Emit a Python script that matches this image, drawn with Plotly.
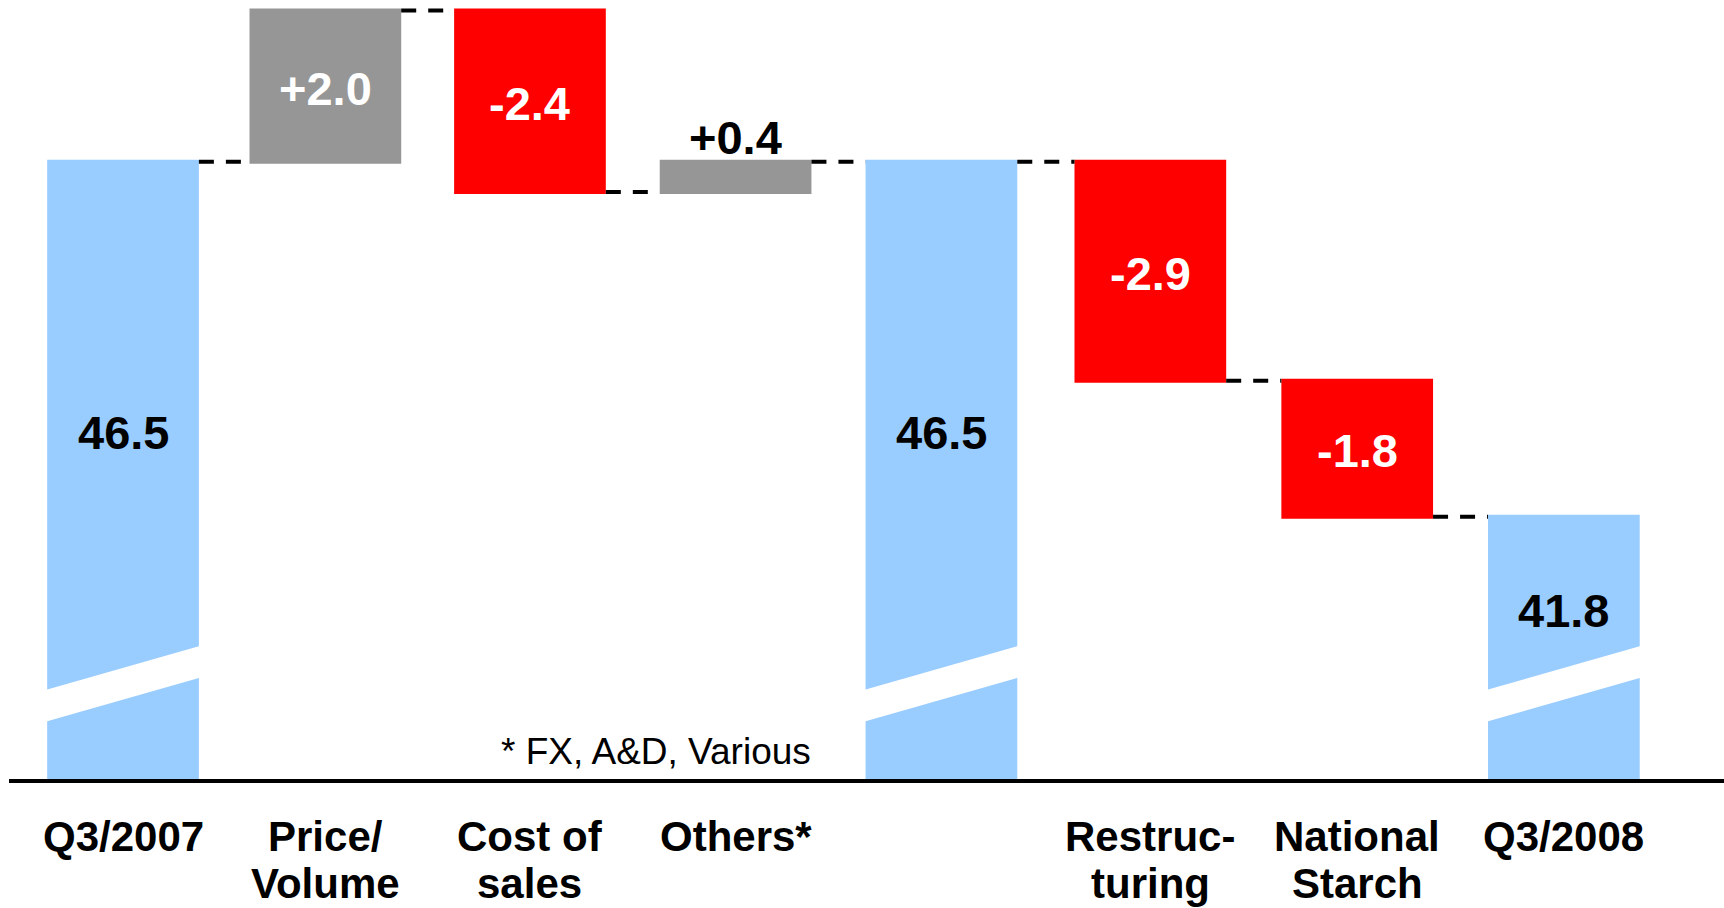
import plotly.graph_objects as go

# ---- data ----
categories = ["Q3/2007", "Price/\nVolume", "Cost of\nsales", "Others*", "",
              "Restruc-\nturing", "National\nStarch", "Q3/2008"]
measures = ["absolute", "relative", "relative", "relative", "total",
            "relative", "relative", "total"]
values = [46.5, 2.0, -2.4, 0.4, 46.5, -2.9, -1.8, 41.8]
value_labels = ["46.5", "+2.0", "-2.4", "+0.4", "46.5", "-2.9", "-1.8", "41.8"]
footnote = "* FX, A&D, Various"

# ---- layout / style parameters ----
W, H = 1724, 908
y_min, y_max = 38.33, 48.64
x_min, x_max = -0.554, 7.778
x_pos = [0.0, 0.983, 1.977, 2.976, 3.976, 4.991, 5.996, 7.0]   # category slots
bar_width = 0.737
total_label_y = {0: 42.91, 4: 42.91, 7: 40.56}   # label positions for total bars
break_low_left, break_thick, break_rise = 39.09, 0.42, 0.58
cat_line_shift = [-83, -130]   # px below plot bottom for each label line

C_TOTAL = "#99CCFF"
C_UP = "#969696"
C_DOWN = "#FF0000"
FONT = "Arial, Liberation Sans, sans-serif"

fig = go.Figure()
fig.add_trace(go.Waterfall(
    x=x_pos, y=values, measure=measures,
    width=[bar_width] * len(x_pos),
    increasing=dict(marker=dict(color=C_UP, line=dict(width=0))),
    decreasing=dict(marker=dict(color=C_DOWN, line=dict(width=0))),
    totals=dict(marker=dict(color=C_TOTAL, line=dict(width=0))),
    connector=dict(mode="between", line=dict(color="black", width=4, dash="15px,12px")),
    textinfo="none", hoverinfo="skip", showlegend=False,
))

# running levels for label placement
levels = []
cur = 0.0
for m, v in zip(measures, values):
    if m in ("absolute", "total"):
        start, end = y_min, v
        cur = v
    else:
        start, end = cur, cur + v
        cur = end
    levels.append((start, end))

annotations = []
for i, (lab, (s, e)) in enumerate(zip(value_labels, levels)):
    xi = x_pos[i]
    if measures[i] in ("absolute", "total"):
        annotations.append(dict(x=xi, y=total_label_y[i], text=lab, showarrow=False,
                                font=dict(family=FONT, size=47, color="black", weight="bold"),
                                xanchor="center", yanchor="middle"))
    elif abs(values[i]) < 1:
        annotations.append(dict(x=xi, y=max(s, e), text=lab, showarrow=False,
                                font=dict(family=FONT, size=47, color="black", weight="bold"),
                                xanchor="center", yanchor="bottom", yshift=-4))
    else:
        annotations.append(dict(x=xi, y=(s + e) / 2, text=lab, showarrow=False,
                                font=dict(family=FONT, size=47, color="white", weight="bold"),
                                xanchor="center", yanchor="middle", yshift=-2))

# category labels (one annotation per text line)
for i, cat in enumerate(categories):
    for k, line in enumerate(cat.split("\n")):
        if not line:
            continue
        annotations.append(dict(x=x_pos[i], y=0, yref="paper", text=line,
                                showarrow=False, yanchor="bottom", xanchor="center",
                                yshift=cat_line_shift[k],
                                font=dict(family=FONT, size=42, color="black", weight="bold")))

annotations.append(dict(x=x_pos[3], xshift=-80, y=y_min, text=footnote, showarrow=False,
                        font=dict(family=FONT, size=37, color="black"),
                        xanchor="center", yanchor="bottom", yshift=5))

# axis break bands on total bars
shapes = []
hw = bar_width / 2 + 0.004
for i, m in enumerate(measures):
    if m in ("absolute", "total"):
        x0, x1 = x_pos[i] - hw, x_pos[i] + hw
        p = (f"M {x0},{break_low_left} L {x1},{break_low_left + break_rise} "
             f"L {x1},{break_low_left + break_rise + break_thick} "
             f"L {x0},{break_low_left + break_thick} Z")
        shapes.append(dict(type="path", path=p, xref="x", yref="y",
                           fillcolor="white", line=dict(width=0), layer="above"))

fig.update_layout(
    width=W, height=H,
    margin=dict(l=9, r=0, t=0, b=129, pad=0),
    paper_bgcolor="white", plot_bgcolor="white",
    annotations=annotations, shapes=shapes,
    xaxis=dict(range=[x_min, x_max], showticklabels=False,
               showgrid=False, zeroline=False, showline=True, linecolor="black",
               linewidth=4, ticks="", fixedrange=True),
    yaxis=dict(range=[y_min, y_max], visible=False, showgrid=False, zeroline=False,
               fixedrange=True),
)

fig.write_html("out.html", config={"displayModeBar": False})
